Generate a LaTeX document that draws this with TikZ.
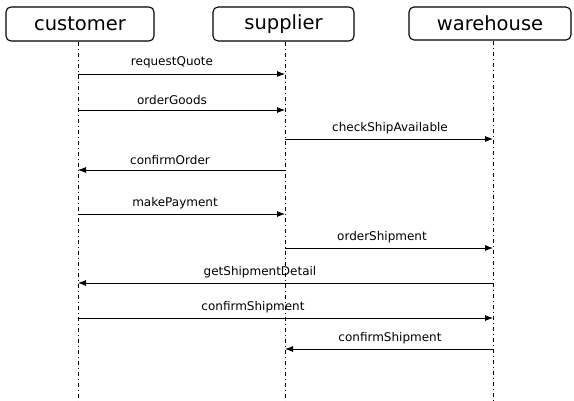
\documentclass[tikz,border=0pt]{standalone}
\usepackage{fontspec}
\setmainfont{DejaVu Sans}
\usetikzlibrary{arrows.meta}
\begin{document}
\begin{tikzpicture}[x=1pt,y=-1pt,
  actor/.style={draw,line width=1.1pt,rounded corners=5pt,inner sep=0pt,font=\fontsize{19.5}{21}\selectfont},
  life/.style={line width=0.8pt,dash pattern=on 4pt off 3pt on 1pt off 3pt},
  msg/.style={line width=0.8pt,-{Latex[length=8pt,width=6pt]}},
  lbl/.style={font=\fontsize{12}{14}\selectfont,inner sep=0pt}]
\useasboundingbox (0,0) rectangle (574,401);
% actors
\node[actor,minimum width=148pt,minimum height=34pt] (cust) at (80,24) {customer};
\node[actor,minimum width=141pt,minimum height=34pt] (supp) at (283.5,24) {supplier};
\node[actor,minimum width=162pt,minimum height=33pt] (ware) at (490,23.5) {warehouse};
% lifelines
\coordinate (cend) at (78,401);
\coordinate (send) at (285,401);
\coordinate (wend) at (493,401);
\draw[life] (cust.south -| cend) -- (cend);
\draw[life] (supp.south -| send) -- (send);
\draw[life] (ware.south -| wend) -- (wend);
% message points
\foreach \n/\y in {1/74,2/110,3/139,4/170,5/214,6/248,7/283,8/318,9/349}{
  \coordinate (c\n) at (78,\y);
  \coordinate (s\n) at (285,\y);
  \coordinate (w\n) at (493,\y);
}
\draw[msg] (c1) -- (s1);
\node[lbl] (l1) at (172,62) {requestQuote};
\draw[msg] (c2) -- (s2);
\node[lbl] (l2) at (172,100) {orderGoods};
\draw[msg] (s3) -- (w3);
\node[lbl] (l3) at (390,128) {checkShipAvailable};
\draw[msg] (s4) -- (c4);
\node[lbl] (l4) at (170,160) {confirmOrder};
\draw[msg] (c5) -- (s5);
\node[lbl] (l5) at (175,203) {makePayment};
\draw[msg] (s6) -- (w6);
\node[lbl] (l6) at (382,237) {orderShipment};
\draw[msg] (w7) -- (c7);
\node[lbl] (l7) at (260,272) {getShipmentDetail};
\draw[msg] (c8) -- (w8);
\node[lbl] (l8) at (253,307) {confirmShipment};
\draw[msg] (w9) -- (s9);
\node[lbl] (l9) at (390,338) {confirmShipment};
\end{tikzpicture}
\end{document}
